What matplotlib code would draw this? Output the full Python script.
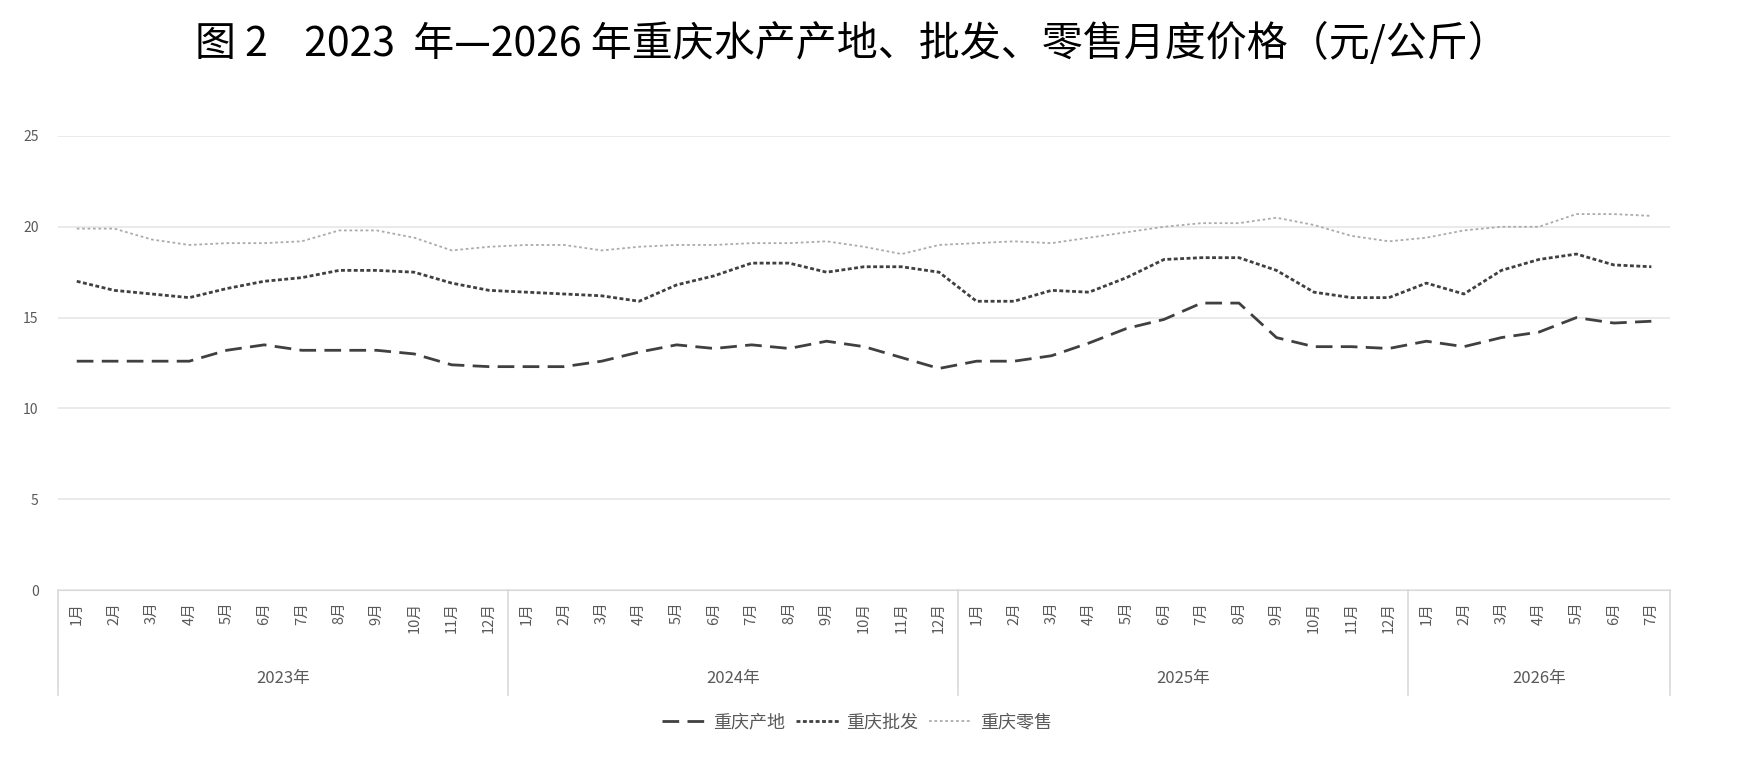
#chart of Chongqing aquatic product prices
import matplotlib
matplotlib.use('Agg')
import matplotlib.pyplot as plt
import numpy as np

plt.rcParams['font.family'] = ['Noto Sans CJK SC', 'DejaVu Sans']

#data
years = ['2023年', '2024年', '2025年', '2026年']
months_per_year = [12, 12, 12, 7]
month_names = ['1月', '2月', '3月', '4月', '5月', '6月', '7月', '8月', '9月', '10月', '11月', '12月']

origin = [12.6, 12.6, 12.6, 12.6, 13.2, 13.5, 13.2, 13.2, 13.2, 13.0, 12.4, 12.3,
          12.3, 12.3, 12.6, 13.1, 13.5, 13.3, 13.5, 13.3, 13.7, 13.4, 12.8, 12.2,
          12.6, 12.6, 12.9, 13.6, 14.4, 14.9, 15.8, 15.8, 13.9, 13.4, 13.4, 13.3,
          13.7, 13.4, 13.9, 14.2, 15.0, 14.7, 14.8]
wholesale = [17.0, 16.5, 16.3, 16.1, 16.6, 17.0, 17.2, 17.6, 17.6, 17.5, 16.9, 16.5,
             16.4, 16.3, 16.2, 15.9, 16.8, 17.3, 18.0, 18.0, 17.5, 17.8, 17.8, 17.5,
             15.9, 15.9, 16.5, 16.4, 17.2, 18.2, 18.3, 18.3, 17.6, 16.4, 16.1, 16.1,
             16.9, 16.3, 17.6, 18.2, 18.5, 17.9, 17.8]
retail = [19.9, 19.9, 19.3, 19.0, 19.1, 19.1, 19.2, 19.8, 19.8, 19.4, 18.7, 18.9,
          19.0, 19.0, 18.7, 18.9, 19.0, 19.0, 19.1, 19.1, 19.2, 18.9, 18.5, 19.0,
          19.1, 19.2, 19.1, 19.4, 19.7, 20.0, 20.2, 20.2, 20.5, 20.1, 19.5, 19.2,
          19.4, 19.8, 20.0, 20.0, 20.7, 20.7, 20.6]

labels = []
for n in months_per_year:
    labels += month_names[:n]
x = np.arange(len(labels))

fig = plt.figure(figsize=(17.58, 7.74), dpi=100)
ax = fig.add_axes([0.033, 0.2377, 0.917, 0.5866])

ax.plot(x, origin, color='#404040', lw=2.0, dashes=(6, 3), label='重庆产地')
ax.plot(x, wholesale, color='#404040', lw=2.0, dashes=(1.4, 0.9), label='重庆批发')
ax.plot(x, retail, color='#ababab', lw=1.3, dashes=(1.5, 1.5), label='重庆零售')

ax.set_xlim(-0.5, len(labels) - 0.5)
ax.set_ylim(0, 25)
ax.set_yticks([0, 5, 10, 15, 20, 25])
ax.yaxis.grid(True, color='#e6e6e6', lw=1.2)
ax.set_axisbelow(True)
for s in ['top', 'right', 'left']:
    ax.spines[s].set_visible(False)
ax.spines['bottom'].set_color('#d9d9d9')
ax.tick_params(axis='y', length=0, pad=14, labelsize=10, labelcolor='#595959')
ax.tick_params(axis='x', length=0)
ax.set_xticks([])

#two level category axis
tr = ax.get_xaxis_transform()
for i, lab in enumerate(labels):
    ax.text(i, -0.026, lab, transform=tr, rotation=90, ha='center', va='top',
            fontsize=10.5, color='#595959')
start = 0
bounds = [-0.5]
for y, n in zip(years, months_per_year):
    ax.text(start + (n - 1) / 2, -0.194, y, transform=tr, ha='center', va='center',
            fontsize=12, color='#595959')
    start += n
    bounds.append(start - 0.5)
for b in bounds:
    ax.plot([b, b], [0, -0.231], transform=tr, color='#d9d9d9', lw=1.2, clip_on=False)

fig.text(0.4846, 0.944, '图 2    2023  年—2026 年重庆水产产地、批发、零售月度价格（元/公斤）',
         ha='center', va='center', fontsize=29.5, fontweight='medium', color='#000000')

fig.legend(loc='center', bbox_to_anchor=(0.4875, 0.067), ncol=3, frameon=False,
           fontsize=13, labelcolor='#595959', handlelength=2.4, columnspacing=0.6,
           handletextpad=0.4)

plt.savefig('out.png', dpi=100)
